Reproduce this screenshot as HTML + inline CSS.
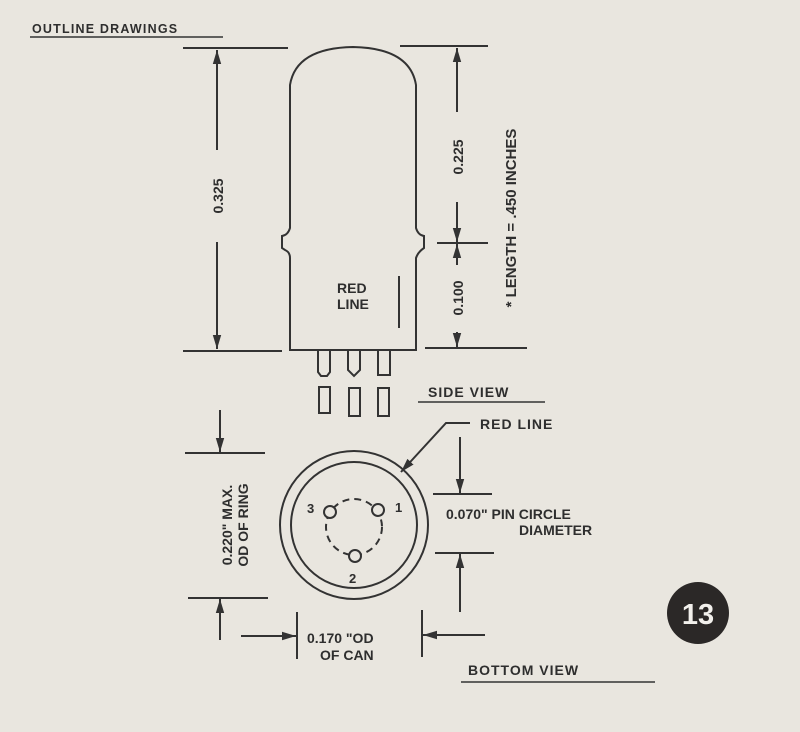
<!DOCTYPE html>
<html><head><meta charset="utf-8"><style>
html,body{margin:0;padding:0;background:#e9e6df;}
svg{display:block;}
text{font-family:"Liberation Sans",sans-serif;fill:#2e2e2e;}
</style></head><body>
<svg width="800" height="732" viewBox="0 0 800 732" xmlns="http://www.w3.org/2000/svg">
<rect width="800" height="732" fill="#e9e6df"/>
<defs>
<marker id="a" viewBox="0 0 10 10" refX="10" refY="5" markerWidth="7" markerHeight="7" orient="auto-start-reverse"><path d="M0,2 L10,5 L0,8 z" fill="#333"/></marker>
</defs>
<g stroke="#333" stroke-width="2" fill="none">
<!-- header -->
<line x1="30" y1="37" x2="223" y2="37" stroke-width="1.5"/>
<!-- tube -->
<path d="M290,350 L290,258 Q290,252 285,250 L282,248 L282,236 Q288,235 290,228 L290,85 Q296,48 353,47 Q410,48 416,85 L416,228 Q418,235 424,236 L424,248 Q418,252 416,258 L416,350 Z"/>
<line x1="399" y1="276" x2="399" y2="328"/>
<!-- pins -->
<path d="M318,350 V372 L321,376 H327 L330,372 V350"/>
<path d="M348,350 V370 L354,376 L360,370 V350"/>
<path d="M378,350 V375 H390 V350"/>
<rect x="319" y="387" width="11" height="26"/>
<rect x="349" y="388" width="11" height="28"/>
<rect x="378" y="388" width="11" height="28"/>
<!-- left dim 0.325 -->
<line x1="183" y1="48" x2="288" y2="48"/>
<line x1="183" y1="351" x2="282" y2="351"/>
<line x1="217" y1="50" x2="217" y2="150" marker-start="url(#a)"/>
<line x1="217" y1="242" x2="217" y2="349" marker-end="url(#a)"/>
<!-- right dims -->
<line x1="400" y1="46" x2="488" y2="46"/>
<line x1="437" y1="243" x2="488" y2="243"/>
<line x1="425" y1="348" x2="527" y2="348"/>
<line x1="457" y1="48" x2="457" y2="112" marker-start="url(#a)"/>
<line x1="457" y1="202" x2="457" y2="242" marker-end="url(#a)"/>
<line x1="457" y1="244" x2="457" y2="265" marker-start="url(#a)"/>
<line x1="457" y1="332" x2="457" y2="347" marker-end="url(#a)"/>
<!-- side view underline -->
<line x1="418" y1="402" x2="545" y2="402" stroke-width="1.5"/>
<!-- bottom view -->
<circle cx="354" cy="525" r="74"/>
<circle cx="354" cy="525" r="63"/>
<circle cx="354" cy="527" r="28" stroke-dasharray="7,5"/>
<circle cx="330" cy="512" r="6" fill="#e9e6df"/>
<circle cx="378" cy="510" r="6" fill="#e9e6df"/>
<circle cx="355" cy="556" r="6" fill="#e9e6df"/>
<!-- red line leader -->
<polyline points="470,423 446,423 401,472" marker-end="url(#a)"/>
<!-- left 0.220 -->
<line x1="185" y1="453" x2="265" y2="453"/>
<line x1="188" y1="598" x2="268" y2="598"/>
<line x1="220" y1="410" x2="220" y2="452" marker-end="url(#a)"/>
<line x1="220" y1="640" x2="220" y2="599" marker-end="url(#a)"/>
<!-- pin circle dims -->
<line x1="433" y1="494" x2="492" y2="494"/>
<line x1="435" y1="553" x2="494" y2="553"/>
<line x1="460" y1="437" x2="460" y2="493" marker-end="url(#a)"/>
<line x1="460" y1="612" x2="460" y2="554" marker-end="url(#a)"/>
<!-- can dims -->
<line x1="297" y1="612" x2="297" y2="659"/>
<line x1="422" y1="610" x2="422" y2="657"/>
<line x1="241" y1="636" x2="296" y2="636" marker-end="url(#a)"/>
<line x1="485" y1="635" x2="423" y2="635" marker-end="url(#a)"/>
<!-- bottom view underline -->
<line x1="461" y1="682" x2="655" y2="682" stroke-width="1.5"/>
</g>
<text x="32" y="33" font-size="12.5" letter-spacing="1.2" font-weight="bold" fill="#444">OUTLINE DRAWINGS</text>
<g font-size="14" font-weight="bold" fill="#333">
<text transform="translate(223,196) rotate(-90)" text-anchor="middle">0.325</text>
<text transform="translate(463,157) rotate(-90)" text-anchor="middle">0.225</text>
<text transform="translate(463,298) rotate(-90)" text-anchor="middle">0.100</text>
<text transform="translate(516,218) rotate(-90)" text-anchor="middle" font-size="15">* LENGTH = .450 INCHES</text>
<text x="337" y="293">RED</text>
<text x="337" y="309">LINE</text>
<text x="428" y="397" letter-spacing="1">SIDE VIEW</text>
<text x="480" y="429" letter-spacing="1">RED LINE</text>
<text x="307" y="513" font-size="13">3</text>
<text x="395" y="512" font-size="13">1</text>
<text x="349" y="583" font-size="13">2</text>
<text transform="translate(232,525) rotate(-90)" text-anchor="middle">0.220" MAX.</text>
<text transform="translate(248,525) rotate(-90)" text-anchor="middle">OD OF RING</text>
<text x="446" y="519">0.070" PIN CIRCLE</text>
<text x="519" y="535">DIAMETER</text>
<text x="307" y="643">0.170 "OD</text>
<text x="320" y="660">OF CAN</text>
<text x="468" y="675" letter-spacing="1">BOTTOM VIEW</text>
</g>
<circle cx="698" cy="613" r="31" fill="#2b2827"/>
<text x="698" y="624" text-anchor="middle" font-size="29" font-weight="bold" fill="#f2f0ec" style="fill:#f2f0ec">13</text>
</svg>
</body></html>
